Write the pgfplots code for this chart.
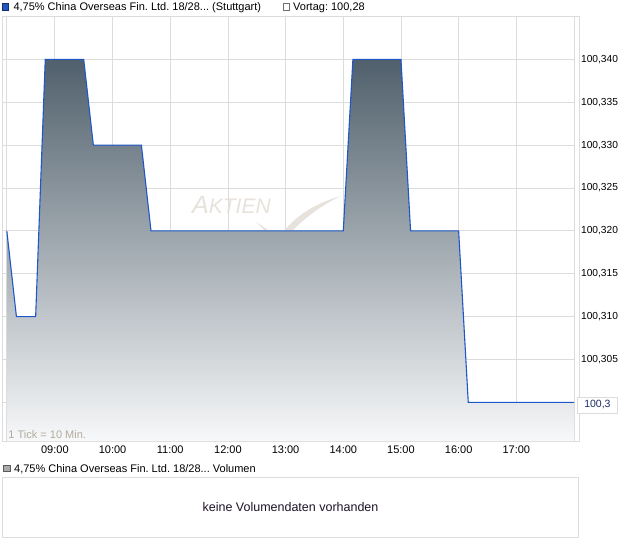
\documentclass[border=0pt]{standalone}
\usepackage{pgfplots}
\pgfplotsset{compat=1.18}
\usepackage{pgfplotstable}
\usepackage{fontspec}
\setmainfont{Liberation Sans}
\frenchspacing
\definecolor{lineblue}{RGB}{30,88,200}
\definecolor{gridgray}{RGB}{220,220,220}
\definecolor{topslate}{RGB}{80,96,108}
\definecolor{botgray}{RGB}{247,248,249}
\definecolor{wmark}{RGB}{232,226,220}
\definecolor{tickcap}{RGB}{180,170,158}

% Kurs im 10-Minuten-Raster (nur Knickpunkte)
\pgfplotstableread{
t v
8.1667 100.32
8.3333 100.31
8.6667 100.31
8.8333 100.34
9.5 100.34
9.6667 100.33
10.5 100.33
10.6667 100.32
14.0 100.32
14.1667 100.34
15.0 100.34
15.1667 100.32
16.0 100.32
16.1667 100.30
18.0 100.30
}\kurs

\begin{document}
\begin{tikzpicture}
\useasboundingbox (0pt,0pt) rectangle (620pt,546pt);
\fill[white] (0pt,0pt) rectangle (620pt,546pt);

% Wasserzeichen
\node[anchor=base west, inner sep=0pt, text=wmark] at (192pt,332.7pt)
  {\itshape\fontsize{25}{25}\selectfont A\fontsize{21}{21}\selectfont KTIEN};
\fill[wmark] (341pt,350pt) .. controls (310pt,341pt) and (295pt,328pt) .. (283pt,314pt)
  -- (291pt,314pt) .. controls (305pt,328pt) and (320pt,340pt) .. (341pt,350pt);
\fill[wmark] (256pt,324pt) -- (271pt,314pt) -- (266pt,314pt) -- cycle;

% rechte Zusatzlinie
\draw[gridgray, line width=0.8pt] (574pt,529.5pt) -- (579pt,529.5pt) -- (579pt,105pt) -- (574pt,105pt);

\begin{axis}[
  at={(2.5pt,105pt)}, anchor=south west,
  scale only axis, width=571.5pt, height=424.5pt,
  xmin=8.092, xmax=18, ymin=100.2955, ymax=100.345,
  axis line style={gridgray, line width=0.8pt},
  grid=major, grid style={gridgray, line width=0.8pt},
  xtick={8.1667,9,10,11,12,13,14,15,16,17},
  xticklabels={,09:00,10:00,11:00,12:00,13:00,14:00,15:00,16:00,17:00},
  ytick={100.300,100.305,100.310,100.315,100.320,100.325,100.330,100.335,100.340},
  yticklabels={{},{100,305},{100,310},{100,315},{100,320},{100,325},{100,330},{100,335},{100,340}},
  yticklabel pos=right,
  major tick length=0pt,
  tick style={draw=none},
  xticklabel style={font=\fontsize{11}{13}\selectfont, yshift=-1.5pt},
  yticklabel style={font=\fontsize{10.2}{12}\selectfont, anchor=west, xshift=3.6pt},
  clip=false,
]
\addplot[draw=none, top color=topslate, bottom color=botgray] table[x=t, y=v] {\kurs} \closedcycle;
\addplot[lineblue, line width=1.1pt, mark=none] table[x=t, y=v] {\kurs};
\end{axis}

% Hinweis unten links
\node[anchor=base west, inner sep=0pt, text=tickcap, font=\fontsize{11}{13}\selectfont] at (8.3pt,108pt) {1 Tick = 10 Min.};

% aktueller Wert
\node[draw=gridgray, fill=white, line width=0.8pt, minimum width=40pt, minimum height=16pt, inner sep=0pt,
      anchor=west, font=\fontsize{10.5}{12}\selectfont, text={rgb,255:red,30;green,45;blue,100}] at (577pt,141pt) {100,3};

% Legende oben
\draw[fill={rgb,255:red,31;green,88;blue,190}, draw={rgb,255:red,20;green,45;blue,110}, line width=0.6pt]
  (2pt,536pt) rectangle (8.5pt,543pt);
\node[anchor=base west, inner sep=0pt, font=\fontsize{11}{13}\selectfont] at (13.3pt,535pt)
  {4,75\% China Overseas Fin. Ltd. 18/28... (Stuttgart)};
\draw[fill=white, draw={rgb,255:red,110;green,110;blue,110}, line width=0.6pt]
  (283pt,536pt) rectangle (289.5pt,543pt);
\node[anchor=base west, inner sep=0pt, font=\fontsize{11}{13}\selectfont] at (293pt,535pt) {Vortag: 100,28};

% Volumen-Bereich
\draw[fill={rgb,255:red,170;green,170;blue,170}, draw={rgb,255:red,90;green,90;blue,90}, line width=0.6pt]
  (3.3pt,74.3pt) rectangle (10pt,81pt);
\node[anchor=base west, inner sep=0pt, font=\fontsize{11}{13}\selectfont] at (14pt,74pt)
  {4,75\% China Overseas Fin. Ltd. 18/28... Volumen};
\draw[gridgray, line width=0.9pt] (2.3pt,8.7pt) rectangle (578pt,68.3pt);
\node[anchor=base, inner sep=0pt, font=\fontsize{12.5}{14}\selectfont, text={rgb,255:red,30;green,20;blue,40}] at (290.5pt,35pt)
  {keine Volumendaten vorhanden};
\end{tikzpicture}
\end{document}
